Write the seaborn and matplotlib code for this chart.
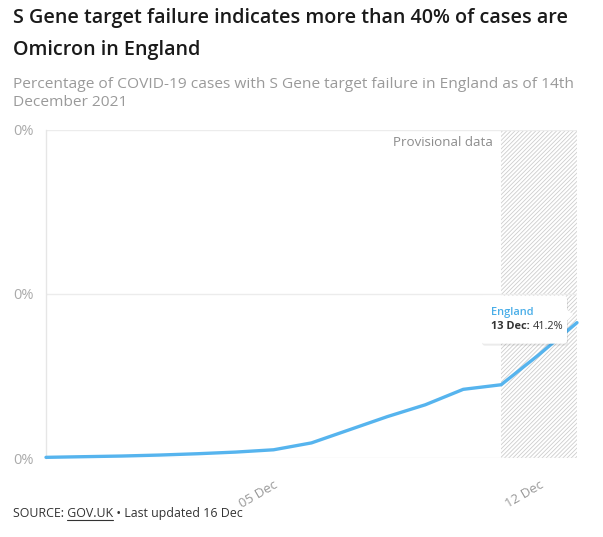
import numpy as np
import pandas as pd
import matplotlib
matplotlib.use("Agg")
import matplotlib.pyplot as plt
import matplotlib.dates as mdates
import seaborn as sns
from matplotlib.transforms import IdentityTransform
from matplotlib.patches import FancyBboxPatch, Polygon
from matplotlib.lines import Line2D

# ---------------- data ----------------
dates = ["2021-11-29", "2021-11-30", "2021-12-01", "2021-12-02", "2021-12-03",
         "2021-12-04", "2021-12-05", "2021-12-06", "2021-12-07", "2021-12-08",
         "2021-12-09", "2021-12-10", "2021-12-11", "2021-12-12", "2021-12-13"]
pct = [0.2, 0.4, 0.6, 0.9, 1.3, 1.8, 2.5, 4.6, 8.6, 12.6, 16.2, 20.9, 22.3, 31.5, 41.2]
series_name = "England"
y_ticks = [0, 50, 100]
y_tick_labels = ["0%", "0%", "0%"]
x_ticks = ["2021-12-05", "2021-12-12"]
x_tick_labels = ["05 Dec", "12 Dec"]
provisional_start = "2021-12-11"
provisional_label = "Provisional data"
title_lines = ["S Gene target failure indicates more than 40% of cases are",
               "Omicron in England"]
subtitle_lines = ["Percentage of COVID-19 cases with S Gene target failure in England as of 14th",
                  "December 2021"]
source_prefix = "SOURCE: "
source_link = "GOV.UK"
source_suffix = " \u2022 Last updated 16 Dec"

# ---------------- style ----------------
sns.set_theme(style="white")
plt.rcParams["font.family"] = ["Open Sans", "DejaVu Sans"]
plt.rcParams["hatch.linewidth"] = 0.6

W, H = 603, 537
fig = plt.figure(figsize=(W / 100, H / 100), dpi=100)
fig.patch.set_facecolor("white")
ax = fig.add_axes([46 / W, 1 - 458 / H, (577 - 46) / W, (458 - 129.5) / H])

df = pd.DataFrame({"date": pd.to_datetime(dates), "pct": pct})
line_color = "#56b4ee"

ax.axvspan(pd.Timestamp(provisional_start), df["date"].iloc[-1], facecolor="white",
           edgecolor="#cdcdcd", hatch="////////", lw=0, zorder=0)
sns.lineplot(data=df, x="date", y="pct", color=line_color, lw=2.4, ax=ax, zorder=3,
             solid_capstyle="round", solid_joinstyle="round", clip_on=False)

ax.set_xlim(df["date"].iloc[0], df["date"].iloc[-1])
ax.set_ylim(0, 100)
ax.set_yticks(y_ticks, y_tick_labels)
ax.set_xticks(pd.to_datetime(x_ticks), x_tick_labels)
ax.set_xlabel("")
ax.set_ylabel("")
ax.grid(axis="y", color="#ececec", lw=1)
ax.set_axisbelow(True)
for s in ["top", "right", "bottom"]:
    ax.spines[s].set_visible(False)
ax.spines["left"].set_color("#e6e6e6")
ax.spines["left"].set_linewidth(1)
ax.tick_params(axis="y", length=5, width=1, color="#ececec", pad=4,
               labelsize=10.5, labelcolor="#aaaaaa")
ax.tick_params(axis="x", length=0, pad=14.4, labelsize=9.5, labelcolor="#999999")
for lab in ax.get_xticklabels():
    lab.set_rotation(30)
    lab.set_ha("right")
    lab.set_va("top")
    lab.set_rotation_mode("anchor")

ax.annotate(provisional_label, xy=(pd.Timestamp(provisional_start), 100),
            xytext=(-8, -6), textcoords="offset pixels", ha="right", va="top",
            fontsize=9.6, color="#8c8c8c")

# ---------------- titles ----------------
fig.text(13 / W, 1 - 18 / H, title_lines[0], fontsize=14.2, fontweight="semibold",
         color="#1a1a1a", va="center", ha="left")
fig.text(13 / W, 1 - 50 / H, title_lines[1], fontsize=14.2, fontweight="semibold",
         color="#1a1a1a", va="center", ha="left")
fig.text(13 / W, 1 - 84 / H, subtitle_lines[0], fontsize=11.15, color="#9a9a9a",
         va="center", ha="left")
fig.text(13 / W, 1 - 102 / H, subtitle_lines[1], fontsize=11.15, color="#9a9a9a",
         va="center", ha="left")

renderer = fig.canvas.get_renderer()


def text_width(s, **kw):
    t = fig.text(0, 0, s, transform=IdentityTransform(), **kw)
    w = t.get_window_extent(renderer=renderer).width
    t.remove()
    return w


# ---------------- source line ----------------
src_kw = dict(fontsize=8.9, color="#333333")
src_y = H - 513
fig.text(13, src_y, source_prefix + source_link + source_suffix, va="center", ha="left",
         transform=IdentityTransform(), **src_kw)
w_full = text_width(source_prefix + source_link, **src_kw)
w_link = text_width(source_link, **src_kw)
fig.add_artist(Line2D([13 + w_full - w_link, 13 + w_full], [src_y - 7, src_y - 7],
                      color="#333333", lw=0.8, transform=IdentityTransform()))

# ---------------- tooltip ----------------
px, py = ax.transData.transform((mdates.date2num(df["date"].iloc[-1]), df["pct"].iloc[-1]))
bx0, bx1, by0, by1 = px - 96, px - 10, py - 21, py + 27
shadow = FancyBboxPatch((bx0 + 1, by0 - 2), bx1 - bx0, by1 - by0,
                        boxstyle="round,pad=0,rounding_size=3", facecolor="#000000",
                        alpha=0.08, edgecolor="none", transform=IdentityTransform(), zorder=5)
fig.add_artist(shadow)
box = FancyBboxPatch((bx0, by0), bx1 - bx0, by1 - by0,
                     boxstyle="round,pad=0,rounding_size=3", facecolor="white",
                     edgecolor="none", transform=IdentityTransform(), zorder=6)
fig.add_artist(box)
fig.add_artist(Polygon([[bx1 - 1, py + 14], [bx1 - 1, py + 1], [px - 4, py + 8]],
                       closed=True, facecolor="white", edgecolor="none",
                       transform=IdentityTransform(), zorder=6))
tip_fs = 7.9
fig.text(px - 86, py + 10, series_name, fontsize=tip_fs, fontweight="semibold",
         color="#4aaee8", va="center", ha="left", transform=IdentityTransform(), zorder=7)
last_date = df["date"].iloc[-1]
label_bold = f"{last_date.day} {last_date:%b}:"
fig.text(px - 86, py - 4, label_bold, fontsize=tip_fs, fontweight="bold", color="#333333",
         va="center", ha="left", transform=IdentityTransform(), zorder=7)
wb = text_width(label_bold, fontsize=tip_fs, fontweight="bold")
fig.text(px - 86 + wb + 3, py - 4, f"{df['pct'].iloc[-1]}%", fontsize=tip_fs,
         color="#333333", va="center", ha="left", transform=IdentityTransform(), zorder=7)

fig.savefig("out.png", dpi=100, facecolor="white")
